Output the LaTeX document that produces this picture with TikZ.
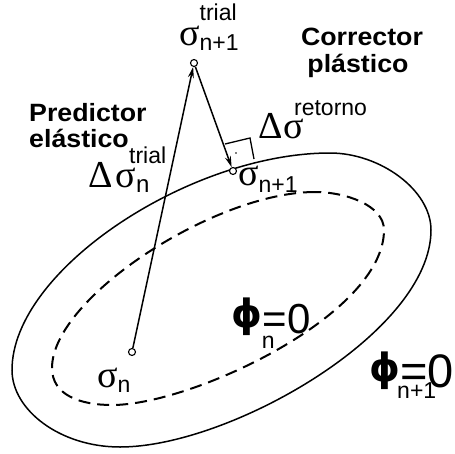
\documentclass[tikz,border=0pt]{standalone}
\usepackage{fontspec}
\setmainfont{Liberation Sans}
\newfontfamily\gr{Liberation Serif}
\newfontfamily\phf{DejaVu Sans}
\usetikzlibrary{arrows.meta}
\newcommand\fsz[1]{\fontsize{#1}{#1}\selectfont}
\newcommand\sg{{\gr\fsz{38}σ}}
\newcommand\dl{{\gr\fsz{38}Δ}}
\newcommand\ph{\raisebox{6pt}{\phf\bfseries\fsz{39}ϕ}}
\begin{document}
\begin{tikzpicture}[x=1pt,y=-1pt,
  lbl/.style={inner sep=0pt,anchor=base west},
  bold/.style={inner sep=0pt,font=\bfseries\fsz{25},xscale=1.07},
  spt/.style={circle,draw,fill=white,inner sep=0pt,minimum size=7pt,line width=1.1pt},
  arr/.style={line width=1.5pt,-{Stealth[length=11pt,width=6pt]}},
  surf/.style={line width=1.5pt},
  surfd/.style={line width=2pt,dash pattern=on 12pt off 7pt}]
\useasboundingbox (0,0) rectangle (455,453);
% yield surface phi_{n+1}=0
\draw[surf] (330,153) .. controls (190,153) and (12,270) .. (12,370)
  .. controls (12,410) and (60,447) .. (120,447)
  .. controls (230,447) and (431,332) .. (431,230)
  .. controls (431,190) and (380,153) .. (330,153) -- cycle;
% yield surface phi_n=0
\draw[surfd] (315,192) .. controls (215,192) and (52,298) .. (52,368)
  .. controls (52,395) and (80,405) .. (112,405)
  .. controls (192,405) and (384,315) .. (384,230)
  .. controls (384,205) and (345,192) .. (315,192) -- cycle;
% stress points
\node[spt] (sn) at (132,352) {};
\node[spt] (st) at (194,63) {};
\node[spt] (sn1) at (233,171) {};
\draw[arr] (sn) -- (st);
\draw[arr] (st) -- (sn1);
% right angle mark
\coordinate (ra1) at (225,144);
\coordinate (ra2) at (250,138);
\coordinate (ra3) at (254,159);
\draw[line width=1.3pt] (ra1) -- (ra2) -- (ra3);
\fill (236,153) circle (0.8pt);
% labels
\node[lbl] (ltrial) at (179,45) {\sg\rlap{\raisebox{25pt}{\fsz{23}trial}}\raisebox{-5pt}{\fsz{23}n+1}};
\node[bold,anchor=base] (corr1) at (362,45) {Corrector};
\node[bold,anchor=base] (corr2) at (358,72) {plástico};
\node[bold,anchor=base west] (pred1) at (29,121) {Predictor};
\node[bold,anchor=base west] (pred2) at (29,147) {elástico};
\node[lbl] (ldtrial) at (88,187) {\dl\kern3pt\sg\rlap{\hspace{-7pt}\raisebox{24pt}{\fsz{23}trial}}\raisebox{-5pt}{\fsz{24}n}};
\node[lbl] (lret) at (258,138) {\dl\kern1pt\sg\rlap{\hspace{-10pt}\raisebox{23pt}{\fsz{23}retorno}}};
\node[lbl] (lsn1) at (238,185) {\sg\raisebox{-7pt}{\fsz{23}n+1}};
\node[lbl] (lsn) at (97,387) {\sg\raisebox{-5pt}{\fsz{23}n}};
\node[inner sep=0pt,anchor=base east] (lphin) at (311,333) {\ph\rlap{\hspace{-1pt}\raisebox{-15pt}{\fsz{23}n}}{\fsz{42}=0}};
\node[inner sep=0pt,anchor=base east] (lphin1) at (454,387) {\ph\rlap{\hspace{-3pt}\raisebox{-11pt}{\fsz{23}n+1}}{\fsz{47}=0}};
\end{tikzpicture}
\end{document}
